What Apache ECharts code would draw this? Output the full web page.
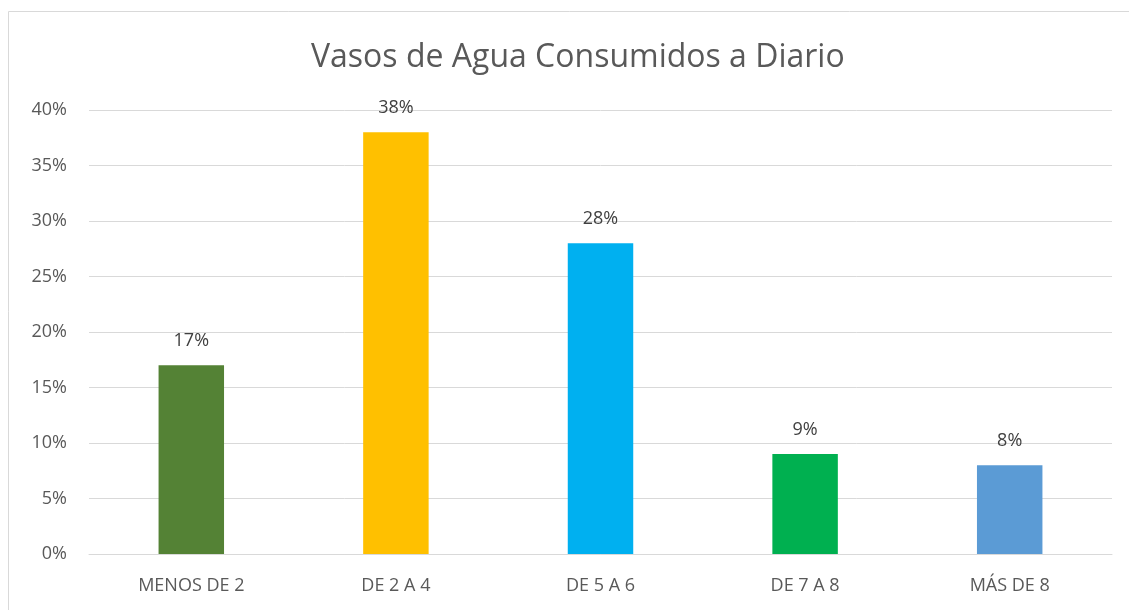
<!DOCTYPE html>
<html>
<head>
<meta charset="utf-8">
<script src="https://cdn.jsdelivr.net/npm/echarts@6/dist/echarts.min.js"></script>
<style>
  html, body { margin: 0; padding: 0; background: #fff; }
  #chart { width: 1129px; height: 610px; }
</style>
</head>
<body>
<div id="chart"></div>
<script>
const categories = ['MENOS DE 2', 'DE 2 A 4', 'DE 5 A 6', 'DE 7 A 8', 'MÁS DE 8'];
const values = [17, 38, 28, 9, 8];
const barColors = ['#548235', '#ffc000', '#00b0f0', '#00b050', '#5b9bd5'];

const chart = echarts.init(document.getElementById('chart'));
const font = 'Open Sans, sans-serif';

chart.setOption({
  animation: false,
  title: {
    text: 'Vasos de Agua Consumidos a Diario',
    left: 306,
    top: 37,
    textStyle: {
      fontFamily: font,
      fontSize: 32,
      fontWeight: 'normal',
      color: '#595959'
    }
  },
  graphic: [
    {
      type: 'rect',
      shape: { x: 8.5, y: 11.5, width: 1140, height: 620 },
      style: { fill: 'none', stroke: '#d9d9d9', lineWidth: 1 },
      silent: true
    }
  ],
  grid: { left: 89, right: 17, top: 110, bottom: 56 },
  xAxis: {
    type: 'category',
    data: categories,
    axisLine: { lineStyle: { color: '#d9d9d9' } },
    axisTick: { show: false },
    axisLabel: {
      fontFamily: font,
      fontSize: 18,
      color: '#595959',
      margin: 23
    }
  },
  yAxis: {
    type: 'value',
    min: 0,
    max: 40,
    interval: 5,
    axisLine: { show: false },
    axisTick: { show: false },
    splitLine: { lineStyle: { color: '#d9d9d9' } },
    axisLabel: {
      fontFamily: font,
      fontSize: 18,
      color: '#595959',
      margin: 22,
      formatter: '{value}%'
    }
  },
  series: [
    {
      type: 'bar',
      barWidth: '32%',
      data: values.map((v, i) => ({ value: v, itemStyle: { color: barColors[i] } })),
      label: {
        show: true,
        position: 'top',
        distance: 15,
        formatter: '{c}%',
        fontFamily: font,
        fontSize: 18,
        color: '#404040'
      }
    }
  ]
});
</script>
</body>
</html>
